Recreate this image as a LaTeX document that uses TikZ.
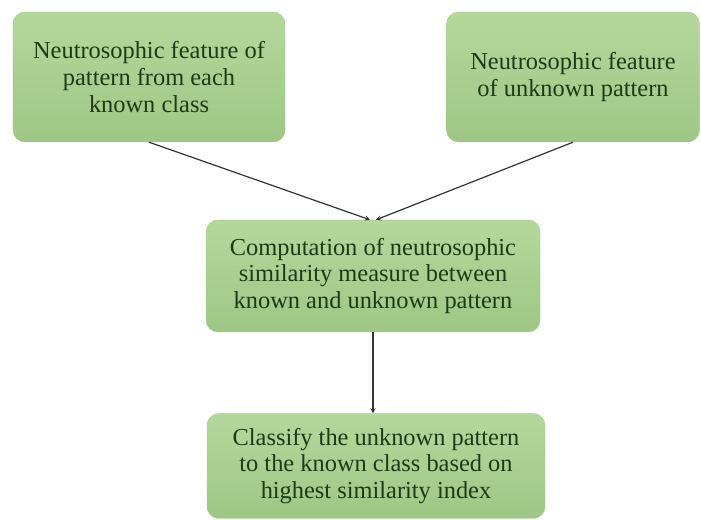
\documentclass[tikz,border=0pt]{standalone}
\usepackage{fontspec}
\setmainfont{Liberation Serif}
\definecolor{boxtop}{HTML}{B3D89C}
\definecolor{boxbot}{HTML}{9EC785}
\definecolor{boxtext}{HTML}{1D3A16}
\tikzset{
  stage/.style={rounded corners=12bp, top color=boxtop, bottom color=boxbot,
    draw=boxbot, align=center, text=boxtext,
    font=\fontsize{24.5}{27}\selectfont},
  flow/.style={->, draw=black!80, line width=1.2bp}
}
\begin{document}
\begin{tikzpicture}[>=stealth, x=1bp, y=1bp]
  \useasboundingbox (0,0) rectangle (701,520);
  \node[stage, minimum width=272bp, minimum height=130bp] (known) at (149,443)
    {Neutrosophic feature of\\pattern from each\\known class};
  \node[stage, minimum width=253bp, minimum height=130bp] (unknown) at (573,443)
    {Neutrosophic feature\\of unknown pattern};
  \node[stage, minimum width=334bp, minimum height=112bp] (simil) at (373,244)
    {Computation of neutrosophic\\similarity measure between\\known and unknown pattern};
  \node[stage, minimum width=338bp, minimum height=105bp] (classify) at (376,54)
    {Classify the unknown pattern\\to the known class based on\\highest similarity index};
  \draw[flow] (known.south) -- ([xshift=-3bp]simil.north);
  \draw[flow] (unknown.south) -- ([xshift=3bp]simil.north);
  \draw[flow] (simil.south) -- (simil.south |- classify.north);
\end{tikzpicture}
\end{document}
